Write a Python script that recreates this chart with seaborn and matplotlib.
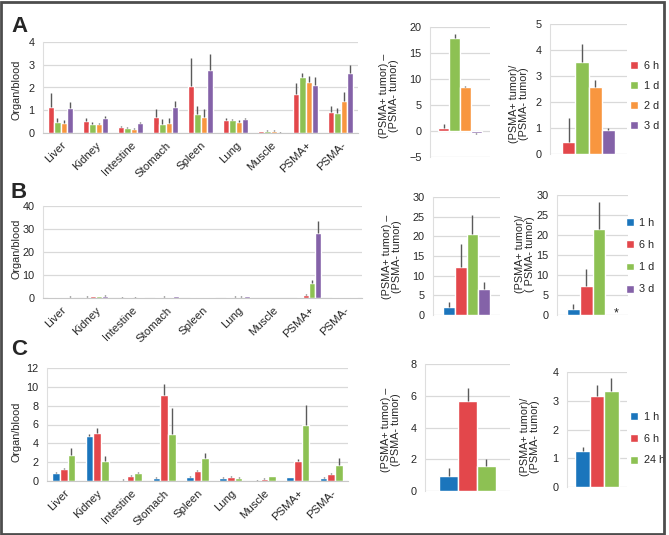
import numpy as np
import pandas as pd
import matplotlib
matplotlib.use('Agg')
import matplotlib.pyplot as plt
import matplotlib.colors as mcolors
from matplotlib.container import BarContainer
from matplotlib.patches import Rectangle
import seaborn as sns

""" ================= Data ================= """
organs = ['Liver', 'Kidney', 'Intestine', 'Stomach', 'Spleen', 'Lung', 'Muscle', 'PSMA+', 'PSMA-']

# Panel A (6 h, 1 d, 2 d, 3 d)
times_a = ['6 h', '1 d', '2 d', '3 d']
a_6h = [1.15, 0.52, 0.25, 0.70, 2.05, 0.57, 0.07, 1.70, 0.93]
a_6h_err = [0.60, 0.16, 0.07, 0.35, 1.23, 0.09, 0.03, 0.48, 0.27]
a_1d = [0.48, 0.40, 0.20, 0.40, 0.85, 0.55, 0.08, 2.45, 0.87]
a_1d_err = [0.17, 0.08, 0.07, 0.22, 0.35, 0.07, 0.03, 0.20, 0.23]
a_2d = [0.45, 0.38, 0.17, 0.45, 0.72, 0.47, 0.08, 2.22, 1.40]
a_2d_err = [0.13, 0.07, 0.07, 0.20, 0.33, 0.08, 0.03, 0.30, 0.40]
a_3d = [1.12, 0.68, 0.43, 1.15, 2.78, 0.60, 0.02, 2.12, 2.63]
a_3d_err = [0.26, 0.08, 0.07, 0.27, 0.70, 0.06, 0.02, 0.36, 0.37]
a_diff = [0.5, 17.8, 8.4, -0.4]
a_diff_err = [0.9, 0.8, 0.3, 0.2]
a_ratio = [0.47, 3.53, 2.58, 0.93]
a_ratio_err = [0.90, 0.70, 0.27, 0.07]

# Panel B (1 h, 6 h, 1 d, 3 d)
times_b = ['1 h', '6 h', '1 d', '3 d']
b_1h = [0.4, 0.6, 0.2, 0.3, 0.3, 0.5, 0.1, 0.3, 0.3]
b_1h_err = [0.1, 0.1, 0.1, 0.1, 0.1, 0.1, 0.05, 0.1, 0.1]
b_6h = [0.5, 0.7, 0.3, 0.6, 0.4, 0.6, 0.1, 1.2, 0.4]
b_6h_err = [0.1, 0.1, 0.1, 0.1, 0.1, 0.1, 0.05, 0.6, 0.1]
b_1d = [0.4, 0.7, 0.2, 0.4, 0.3, 0.6, 0.1, 6.4, 0.4]
b_1d_err = [0.1, 0.1, 0.1, 0.1, 0.1, 0.1, 0.05, 1.5, 0.1]
b_3d = [0.6, 1.0, 0.4, 0.8, 0.5, 0.7, 0.1, 28.1, 0.3]
b_3d_err = [0.1, 0.2, 0.1, 0.2, 0.1, 0.1, 0.05, 5.4, 0.1]
b_diff = [2.0, 12.2, 20.5, 6.6]
b_diff_err = [1.2, 5.8, 5.0, 1.7]
b_ratio = [1.6, 7.2, 21.4, np.nan]
b_ratio_err = [1.1, 4.2, 6.9, np.nan]

# Panel C (1 h, 6 h, 24 h)
times_c = ['1 h', '6 h', '24 h']
c_1h = [0.85, 4.8, 0.15, 0.35, 0.45, 0.35, 0.05, 0.4, 0.3]
c_1h_err = [0.1, 0.15, 0.05, 0.07, 0.05, 0.07, 0.03, 0.07, 0.1]
c_6h = [1.3, 5.05, 0.55, 9.15, 1.1, 0.45, 0.25, 2.1, 0.7]
c_6h_err = [0.1, 0.6, 0.07, 1.2, 0.05, 0.07, 0.07, 0.2, 0.1]
c_24h = [2.75, 2.15, 0.85, 5.0, 2.4, 0.35, 0.5, 5.9, 1.75]
c_24h_err = [0.8, 0.5, 0.07, 2.8, 0.55, 0.07, 0.07, 2.2, 0.65]
c_diff = [0.95, 5.7, 1.6]
c_diff_err = [0.5, 0.8, 0.4]
c_ratio = [1.25, 3.15, 3.35]
c_ratio_err = [0.15, 0.4, 0.45]

colors = {'6 h': '#e3474b', '1 d': '#8dc153', '2 d': '#f8963f', '3 d': '#8462a8',
          '1 h': '#1b75bc', '24 h': '#8dc153'}

diff_label = '(PSMA+ tumor) \u2013\n(PSMA- tumor)'
ratio_label = '(PSMA+ tumor)/\n(PSMA- tumor)'
ratio_label_b = '(PSMA+ tumor)/\n( PSMA- tumor)'

""" ================= Style ================= """
sns.set_style('white')
plt.rcParams['font.family'] = ['Liberation Sans', 'DejaVu Sans']
plt.rcParams['font.size'] = 7

W, H = 669, 535
fig = plt.figure(figsize=(W / 100, H / 100), dpi=100)


def px_axes(x0, x1, ytop, ybot):
    return fig.add_axes([x0 / W, (H - ybot) / H, (x1 - x0) / W, (ybot - ytop) / H])


def add_err(ax, df, cat_col, cats, times):
    # match each drawn bar to its row by category position + colour
    col2time = {mcolors.to_hex(colors[t]): t for t in times}
    bar_conts = [c for c in ax.containers if isinstance(c, BarContainer)]
    for cont in bar_conts:
        for bar in cont.patches:
            xc = bar.get_x() + bar.get_width() / 2
            t = col2time.get(mcolors.to_hex(bar.get_facecolor()))
            if t is None:
                continue
            ci = int(round(xc))
            row = df[(df[cat_col] == cats[ci]) & (df['time'] == t)]
            if row.empty:
                continue
            v, e = row['value'].iloc[0], row['err'].iloc[0]
            if np.isnan(v):
                continue
            yerr = [[e], [0]] if v < 0 else [[0], [e]]
            ax.errorbar(xc, v, yerr=yerr, fmt='none', ecolor='#5a5a5a', elinewidth=1.0, capsize=0)


def style(ax, lo, hi, step):
    ax.set_ylim(lo, hi)
    ax.set_yticks(np.arange(lo, hi + step / 2, step))
    ax.yaxis.grid(True, color='#d9d9d9', lw=0.9)
    ax.set_axisbelow(True)
    for s in ['top', 'right']:
        ax.spines[s].set_visible(False)
    ax.spines['left'].set_color('#dedede')
    ax.tick_params(axis='y', length=0, pad=6, labelsize=7.8)
    ax.set_xlabel('')
    ax.set_ylabel('')


def organ_panel(ax, times, vals, errs, lo, hi, step):
    df = pd.DataFrame({'organ': np.tile(organs, len(times)),
                       'time': np.repeat(times, len(organs)),
                       'value': np.concatenate(vals),
                       'err': np.concatenate(errs)})
    sns.barplot(data=df, x='organ', y='value', hue='time', order=organs, hue_order=times,
                palette=colors, width=0.69, saturation=1, errorbar=None, legend=False, ax=ax)
    add_err(ax, df, 'organ', organs, times)
    style(ax, lo, hi, step)
    ax.set_xlim(-0.5, len(organs) - 0.5)
    ax.spines['bottom'].set_color('#c8c8c8')
    ax.set_xticks(np.arange(-0.5, len(organs), 1), minor=True)
    ax.tick_params(axis='x', which='minor', length=4, color='#c8c8c8')
    ax.tick_params(axis='x', which='major', length=0, pad=5, labelsize=8.2)
    for lab in ax.get_xticklabels():
        lab.set_rotation(45)
        lab.set_ha('right')
        lab.set_rotation_mode('anchor')


def small_panel(ax, times, vals, errs, lo, hi, step, width, legend=False):
    df = pd.DataFrame({'grp': [''] * len(times), 'time': times, 'value': vals, 'err': errs})
    sns.barplot(data=df, x='grp', y='value', hue='time', hue_order=times, palette=colors,
                width=width, saturation=1, errorbar=None, legend=legend, ax=ax)
    add_err(ax, df, 'grp', [''], times)
    style(ax, lo, hi, step)
    ax.set_xlim(-0.5, 0.5)
    ax.set_xticks([])
    ax.spines['bottom'].set_visible(False)
    return df


""" ================= Panel A ================= """
axA = px_axes(43, 358, 42, 133)
organ_panel(axA, times_a, [a_6h, a_1d, a_2d, a_3d], [a_6h_err, a_1d_err, a_2d_err, a_3d_err], 0, 4, 1)
axA2 = px_axes(430, 490, 27, 157)
small_panel(axA2, times_a, a_diff, a_diff_err, -5, 20, 5, 0.73)
axA3 = px_axes(550, 627, 24, 154)
small_panel(axA3, times_a, a_ratio, a_ratio_err, 0, 5, 1, 0.69, legend=True)
sns.move_legend(axA3, 'center left', bbox_to_anchor=(1.04, 0.445), frameon=False, title=None,
                handlelength=0.75, handleheight=0.75, labelspacing=0.92, handletextpad=0.5,
                borderaxespad=0, borderpad=0, fontsize=7.8)

""" ================= Panel B ================= """
axB = px_axes(43, 362, 206, 298)
organ_panel(axB, times_b, [b_1h, b_6h, b_1d, b_3d], [b_1h_err, b_6h_err, b_1d_err, b_3d_err], 0, 40, 10)
axB2 = px_axes(433, 500, 197, 315)
small_panel(axB2, times_b, b_diff, b_diff_err, 0, 30, 5, 0.71)
axB3 = px_axes(557, 628, 195, 315)
small_panel(axB3, times_b, b_ratio, b_ratio_err, 0, 30, 5, 0.72, legend=True)
sns.move_legend(axB3, 'center left', bbox_to_anchor=(0.97, 0.49), frameon=False, title=None,
                handlelength=0.75, handleheight=0.75, labelspacing=1.12, handletextpad=0.5,
                borderaxespad=0, borderpad=0, fontsize=7.8)
# no value for the 3 d ratio
axB3.text(0.33, 0.3, '*', ha='center', va='center', fontsize=9)

""" ================= Panel C ================= """
axC = px_axes(47, 348, 368, 481)
organ_panel(axC, times_c, [c_1h, c_6h, c_24h], [c_1h_err, c_6h_err, c_24h_err], 0, 12, 2)
axC2 = px_axes(425, 510, 364, 491)
small_panel(axC2, times_c, c_diff, c_diff_err, 0, 8, 2, 0.66)
axC3 = px_axes(567, 627, 372, 487)
small_panel(axC3, times_c, c_ratio, c_ratio_err, 0, 4, 1, 0.72, legend=True)
sns.move_legend(axC3, 'center left', bbox_to_anchor=(1.05, 0.42), frameon=False, title=None,
                handlelength=0.75, handleheight=0.75, labelspacing=1.08, handletextpad=0.5,
                borderaxespad=0, borderpad=0, fontsize=7.8)

""" ================= Labels ================= """
ylabs = [('Organ/blood', 17, 90), (diff_label, 389, 96), (ratio_label, 519, 104),
         ('Organ/blood', 17, 249), (diff_label, 392, 257), (ratio_label_b, 525, 254),
         ('Organ/blood', 17, 432), (diff_label, 391, 430), (ratio_label, 530, 437)]
for txt, x, y in ylabs:
    fig.text(x / W, 1 - y / H, txt, rotation=90, ha='center', va='center', fontsize=7.8,
             linespacing=1.0)

for letter, x, y in [('A', 11, 32), ('B', 11, 198), ('C', 11, 355)]:
    fig.text(x / W, 1 - y / H, letter, fontsize=16, fontweight='bold', va='baseline')

# outer frame
fig.patches.append(Rectangle((1 / W, 1 / H), 663 / W, 532 / H, transform=fig.transFigure,
                             fill=False, edgecolor='#4d4d4d', lw=2))

plt.savefig('out.png', dpi=100)
